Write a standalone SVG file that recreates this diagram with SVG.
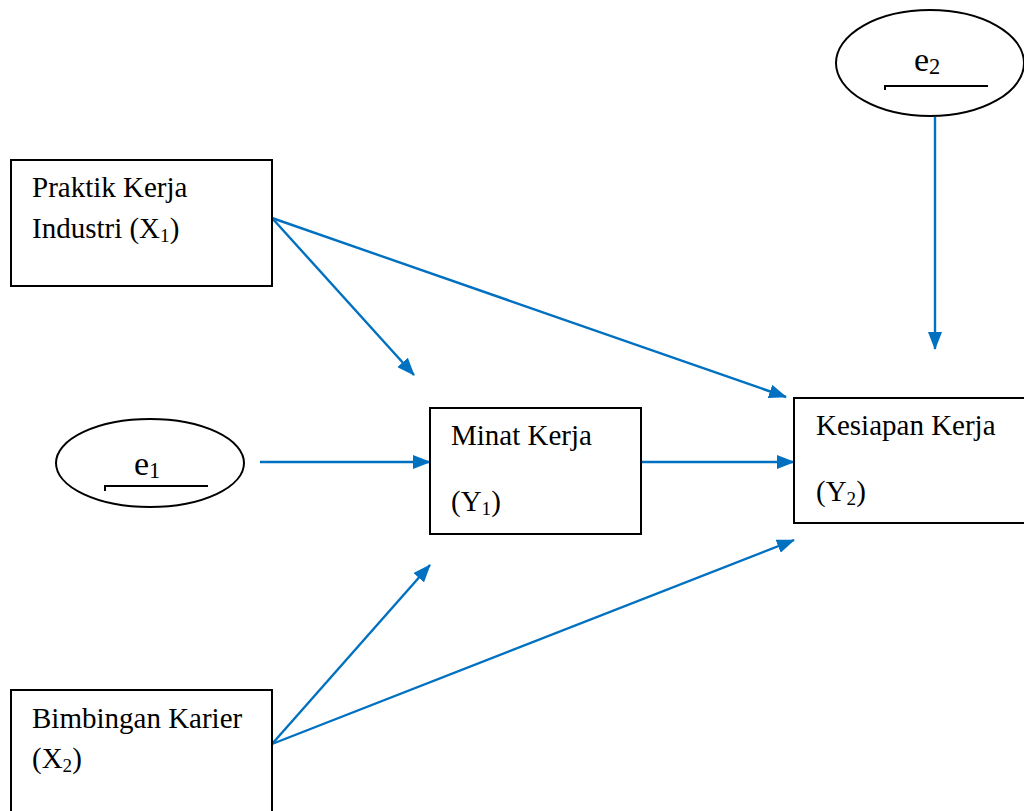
<svg xmlns="http://www.w3.org/2000/svg" width="1024" height="811" viewBox="0 0 1024 811">
  <style>
    .box { fill: #ffffff; stroke: #000000; stroke-width: 2; }
    .oval { fill: #ffffff; stroke: #000000; stroke-width: 2; }
    .lbl { font-family: "Liberation Serif", "Times New Roman", serif; font-size: 29px; fill: #000000; }
    .err { font-family: "Liberation Serif", "Times New Roman", serif; font-size: 34px; fill: #000000; }
    .sub { font-size: 66%; }
    .bar { fill: none; stroke: #000000; stroke-width: 2; }
    .link { fill: none; stroke: #0070C0; stroke-width: 2.4; marker-end: url(#head); }
  </style>
  <defs>
    <marker id="head" viewBox="0 0 18 14" refX="17" refY="7" markerWidth="18" markerHeight="14" markerUnits="userSpaceOnUse" orient="auto">
      <path d="M0,0 L18,7 L0,14 Z" fill="#0070C0"/>
    </marker>
  </defs>
  <rect width="1024" height="811" fill="#ffffff"/>

  <g id="connectors">
    <line class="link" x1="272" y1="218" x2="414" y2="375"/>
    <line class="link" x1="272" y1="218" x2="786" y2="397"/>
    <line class="link" x1="260" y1="462" x2="430" y2="462"/>
    <line class="link" x1="641" y1="462" x2="794" y2="462"/>
    <line class="link" x1="272" y1="744" x2="430" y2="565"/>
    <line class="link" x1="272" y1="744" x2="794" y2="540"/>
    <line class="link" x1="935" y1="117" x2="935" y2="349"/>
  </g>

  <g id="x1">
    <rect class="box" x="11" y="160" width="261" height="126"/>
    <text class="lbl" x="32" y="197">Praktik Kerja</text>
    <text class="lbl" x="32" y="238">Industri (X<tspan class="sub" dy="4">1</tspan><tspan dy="-4">)</tspan></text>
  </g>

  <g id="x2">
    <rect class="box" x="11" y="690" width="261" height="130"/>
    <text class="lbl" x="32" y="728">Bimbingan Karier</text>
    <text class="lbl" x="32" y="768">(X<tspan class="sub" dy="4">2</tspan><tspan dy="-4">)</tspan></text>
  </g>

  <g id="y1">
    <rect class="box" x="430" y="408" width="211" height="126"/>
    <text class="lbl" x="451" y="445">Minat Kerja</text>
    <text class="lbl" x="451" y="511">(Y<tspan class="sub" dy="4">1</tspan><tspan dy="-4">)</tspan></text>
  </g>

  <g id="y2">
    <rect class="box" x="794" y="398" width="240" height="125"/>
    <text class="lbl" x="816" y="435">Kesiapan Kerja</text>
    <text class="lbl" x="816" y="501">(Y<tspan class="sub" dy="4">2</tspan><tspan dy="-4">)</tspan></text>
  </g>

  <g id="e1">
    <ellipse class="oval" cx="150" cy="463" rx="94" ry="44"/>
    <text class="err" x="134" y="475">e<tspan class="sub" dy="3">1</tspan></text>
    <path class="bar" d="M105,491 L105,486 L208,486"/>
  </g>

  <g id="e2">
    <ellipse class="oval" cx="930" cy="63" rx="94" ry="53"/>
    <text class="err" x="914" y="71">e<tspan class="sub" dy="3">2</tspan></text>
    <path class="bar" d="M885,90 L885,86 L988,86"/>
  </g>
</svg>
